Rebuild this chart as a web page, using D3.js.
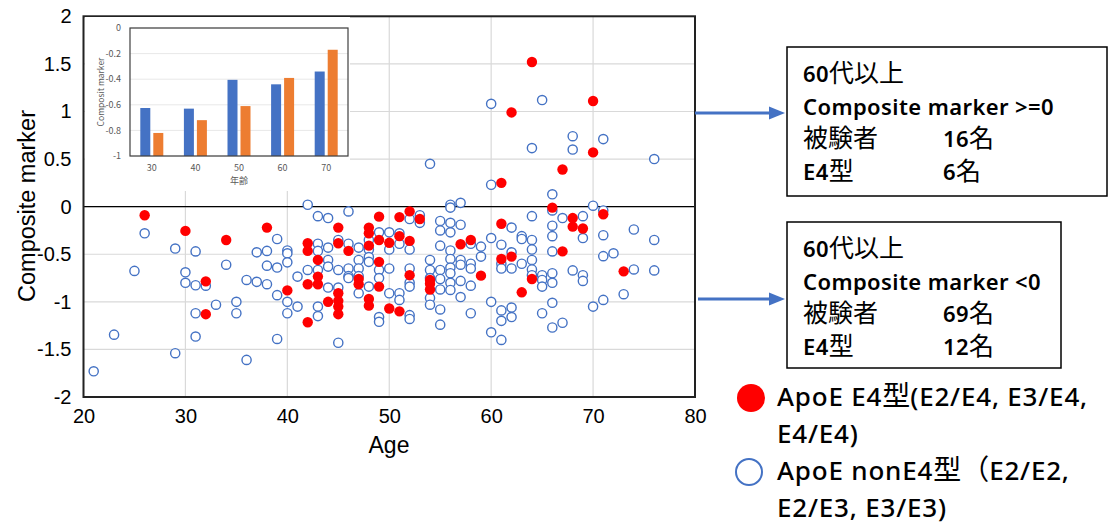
<!DOCTYPE html>
<html>
<head>
<meta charset="utf-8">
<script src="https://cdn.jsdelivr.net/npm/d3@7"></script>
<style>
  body { margin: 0; background: #fff; }
  svg { display: block; }
  .eje text { font-family: "Liberation Sans", Arial, sans-serif; font-size: 20px; fill: #000; }
  .mini text { font-family: "Noto Sans CJK JP", sans-serif; font-size: 9px; fill: #595959; }
</style>
</head>
<body>
<div id="grafico"></div>
<script>
// Datos: ApoE E4 (rojo) y nonE4 (azul) -> [edad, composite marker]
e4Puntos = [
  [26,-0.09],[30,-0.255],[32,-0.785],[32,-1.13],[34,-0.35],[38,-0.22],[40,-0.88],
  [42,-0.385],[42,-0.465],[42,-0.815],[42,-1.215],[43,-0.56],[43,-0.735],[43,-0.815],
  [44,-1.0],[45,-0.22],[45,-0.385],[45,-0.91],[45,-0.99],[45,-1.05],[45,-1.13],[46,-0.465],
  [47,-0.76],[47,-0.815],[48,-0.22],[48,-0.28],[48,-0.41],[48,-0.97],[48,-1.04],
  [49,-0.105],[49,-0.35],[49,-0.58],[49,-0.84],[50,-0.38],[50,-1.07],[51,-0.11],[51,-0.31],
  [51,-1.1],[52,-0.05],[52,-0.36],[52,-0.72],[53,-0.13],[54,-0.77],[54,-0.81],[54,-0.87],
  [57,-0.395],[58,-0.35],[59,-0.725],[61,0.25],[61,-0.18],[61,-0.55],[62,0.99],[62,-0.525],
  [63,-0.9],[64,1.52],[64,-0.76],[66,-0.01],[67,0.39],[67,-0.47],[68,-0.12],[68,-0.21],
  [69,-0.23],[70,1.11],[70,0.57],[71,-0.08],[73,-0.68]
]
nonE4Puntos = [
  [21,-1.73],[23,-1.345],[25,-0.675],[26,-0.28],[29,-0.44],[29,-1.54],[30,-0.69],[30,-0.8],
  [31,-0.47],[31,-0.826],[31,-1.12],[31,-1.365],[32,-0.83],[33,-1.03],[34,-0.61],[35,-1.0],
  [35,-1.12],[36,-0.77],[36,-1.61],[37,-0.48],[37,-0.79],[38,-0.465],[38,-0.62],[38,-0.815],
  [39,-0.34],[39,-0.64],[39,-0.93],[39,-1.39],[40,-0.46],[40,-0.49],[40,-0.585],[40,-1.0],
  [40,-1.12],[41,-0.735],[41,-1.05],
  [42,0.02],[42,-0.665],[43,-0.1],[43,-0.39],[43,-0.465],[43,-0.665],[43,-1.05],[43,-1.15],
  [44,-0.12],[44,-0.43],[44,-0.56],[44,-0.63],[44,-0.85],[45,-0.35],[45,-0.665],[45,-0.85],
  [45,-1.43],[46,-0.05],[46,-0.39],[46,-0.65],[46,-0.73],[46,-0.75],[47,-0.43],[47,-0.56],
  [47,-0.65],[47,-0.73],[47,-0.91],[48,-0.35],[48,-0.45],[48,-0.53],[48,-0.58],[48,-0.84],
  [49,-0.27],[49,-0.665],[49,-0.75],[49,-1.16],[49,-1.21],[50,-0.27],[50,-0.45],[50,-0.65],
  [50,-0.91],[51,-0.28],[51,-0.39],[51,-0.91],[51,-0.98],[52,-0.13],[52,-0.45],[52,-0.65],
  [52,-0.8],[52,-0.84],[52,-1.14],[52,-1.18],[53,-0.09],[53,-0.17],[54,0.45],[54,-0.56],
  [54,-0.665],[54,-0.75],[54,-0.96],[54,-1.03],[55,-0.15],[55,-0.25],[55,-0.41],[55,-0.665],
  [55,-0.76],[55,-0.87],[55,-1.08],[55,-1.24],[56,0.02],[56,-0.01],[56,-0.17],[56,-0.27],
  [56,-0.46],[56,-0.55],[56,-0.64],[56,-0.7],[56,-0.8],[56,-0.875],[57,0.04],[57,-0.19],
  [57,-0.56],[57,-0.61],[57,-0.78],[57,-0.95],[58,-0.39],[58,-0.6],[58,-0.65],[58,-0.83],
  [58,-1.12],[59,-0.42],[59,-0.525],
  [60,1.08],[60,0.23],[60,-0.33],[60,-1.0],[60,-1.32],[61,-0.4],[61,-0.6],[61,-0.65],
  [61,-1.09],[61,-1.2],[61,-1.4],[62,-0.22],[62,-0.48],[62,-0.65],[62,-1.06],[62,-1.16],
  [63,-0.31],[63,-0.34],[63,-0.6],[64,0.615],[64,-0.1],[64,-0.35],[64,-0.45],[64,-0.56],
  [64,-0.66],[64,-0.72],[65,1.12],[65,-0.72],[65,-0.77],[65,-0.84],[65,-1.12],[66,0.13],
  [66,-0.04],[66,-0.2],[66,-0.31],[66,-0.47],[66,-0.7],[66,-0.8],[66,-1.01],[66,-1.27],
  [67,-0.12],[67,-1.22],[68,0.74],[68,0.6],[68,-0.67],[69,-0.1],[69,-0.33],[69,-0.72],
  [69,-0.78],[70,0.01],[70,-1.05],[71,0.71],[71,-0.04],[71,-0.3],[71,-0.52],[71,-0.98],
  [72,-0.49],[73,-0.92],[74,-0.24],[74,-0.66],[76,0.5],[76,-0.35],[76,-0.67]
]
ticksX = [20, 30, 40, 50, 60, 70, 80]
ticksY = [-2, -1.5, -1, -0.5, 0, 0.5, 1, 1.5, 2]

// Grafica insertada (promedio por decada)
decadas = ['30', '40', '50', '60', '70']
promNonE4 = [-0.625, -0.63, -0.405, -0.44, -0.34]
promE4 = [-0.82, -0.72, -0.61, -0.39, -0.17]
ticksMini = [-1, -0.8, -0.6, -0.4, -0.2, 0]

// Textos de las cajas y leyenda
caja1 = ['60代以上', 'Composite marker >=0', ['被験者', '16名'], ['E4型', '6名']]
caja2 = ['60代以上', 'Composite marker <0', ['被験者', '69名'], ['E4型', '12名']]
leyenda = [['ApoE E4型(E2/E4, E3/E4,', 'E4/E4)'], ['ApoE nonE4型（E2/E2,', 'E2/E3, E3/E3)']]

ancho = 1109
alto = 524
azul = '#4472C4'
naranja = '#ED7D31'
formato = d => String(d)

svg = d3.select('#grafico').append('svg')
  .attr('width', ancho).attr('height', alto)

margen = { superior: 16.3, izquierdo: 83.5, derecho: 414, inferior: 127 }
anchoG = ancho - margen.izquierdo - margen.derecho
altoG = alto - margen.superior - margen.inferior

x = d3.scaleLinear().domain([20, 80]).range([0, anchoG])
y = d3.scaleLinear().domain([-2, 2]).range([altoG, 0])

g = svg.append('g').attr('transform', `translate(${margen.izquierdo}, ${margen.superior})`)

// Rejilla
g.selectAll('.gy').data(ticksY).join('line')
  .attr('x1', 0).attr('x2', anchoG)
  .attr('y1', d => y(d)).attr('y2', d => y(d))
  .attr('stroke', '#d9d9d9').attr('stroke-width', 1.2)
g.selectAll('.gx').data(ticksX).join('line')
  .attr('y1', 0).attr('y2', altoG)
  .attr('x1', d => x(d)).attr('x2', d => x(d))
  .attr('stroke', '#d9d9d9').attr('stroke-width', 1.2)

// Ejes
yEje = g.append('g').attr('class', 'eje')
  .call(d3.axisLeft(y).tickValues(ticksY).tickSize(0).tickPadding(12).tickFormat(formato))
yEje.select('.domain').remove()
xEje = g.append('g').attr('class', 'eje').attr('transform', `translate(0, ${altoG})`)
  .call(d3.axisBottom(x).tickValues(ticksX).tickSize(0).tickPadding(12).tickFormat(formato))
xEje.select('.domain').remove()

// Linea cero
g.append('line').attr('x1', 0).attr('x2', anchoG)
  .attr('y1', y(0)).attr('y2', y(0))
  .attr('stroke', '#000').attr('stroke-width', 1.3)

// Puntos
g.selectAll('.azul').data(nonE4Puntos).join('circle')
  .attr('cx', d => x(d[0])).attr('cy', d => y(d[1])).attr('r', 4.6)
  .attr('fill', '#fff').attr('stroke', azul).attr('stroke-width', 1.4)
g.selectAll('.rojo').data(e4Puntos).join('circle')
  .attr('cx', d => x(d[0])).attr('cy', d => y(d[1])).attr('r', 5.2)
  .attr('fill', '#ff0000')

// Marco
g.append('rect').attr('x', 0).attr('y', 0).attr('width', anchoG).attr('height', altoG)
  .attr('fill', 'none').attr('stroke', '#222').attr('stroke-width', 2)

// Titulos
svg.append('text').attr('x', 389).attr('y', 453).attr('text-anchor', 'middle')
  .style('font-family', '"Liberation Sans", Arial, sans-serif').style('font-size', '23px')
  .text('Age')
svg.append('text').attr('transform', 'translate(35, 206) rotate(-90)').attr('text-anchor', 'middle')
  .style('font-family', '"Liberation Sans", Arial, sans-serif').style('font-size', '23.5px')
  .text('Composite marker')

/******** GRAFICA INSERTADA *************/
mini = svg.append('g').attr('class', 'mini')
mini.append('rect').attr('x', 85).attr('y', 17).attr('width', 265).attr('height', 174).attr('fill', '#fff')
mIzq = 130, mSup = 28, mAncho = 218, mAlto = 128
xm = d3.scaleBand().domain(decadas).range([mIzq, mIzq + mAncho])
ym = d3.scaleLinear().domain([-1, 0]).range([mSup + mAlto, mSup])

mini.selectAll('.mg').data(ticksMini).join('line')
  .attr('x1', mIzq).attr('x2', mIzq + mAncho)
  .attr('y1', d => ym(d)).attr('y2', d => ym(d))
  .attr('stroke', '#e8e8e8')
mini.selectAll('.barAzul').data(decadas).join('rect')
  .attr('x', d => xm(d) + xm.bandwidth() / 2 - 11.5)
  .attr('width', 10)
  .attr('y', (d, i) => ym(promNonE4[i]))
  .attr('height', (d, i) => ym(-1) - ym(promNonE4[i]))
  .attr('fill', azul)
mini.selectAll('.barNar').data(decadas).join('rect')
  .attr('x', d => xm(d) + xm.bandwidth() / 2 + 1.5)
  .attr('width', 10)
  .attr('y', (d, i) => ym(promE4[i]))
  .attr('height', (d, i) => ym(-1) - ym(promE4[i]))
  .attr('fill', naranja)
mini.append('rect').attr('x', mIzq).attr('y', mSup).attr('width', mAncho).attr('height', mAlto)
  .attr('fill', 'none').attr('stroke', '#404040').attr('stroke-width', 1.2)
mini.selectAll('.my').data(ticksMini).join('text')
  .attr('x', mIzq - 9).attr('y', d => ym(d)).attr('dy', '0.35em').attr('text-anchor', 'end')
  .text(formato)
mini.selectAll('.mx').data(decadas).join('text')
  .attr('x', d => xm(d) + xm.bandwidth() / 2).attr('y', mSup + mAlto + 15).attr('text-anchor', 'middle')
  .text(d => d)
mini.append('text').attr('x', 239).attr('y', 184).attr('text-anchor', 'middle').text('年齢')
mini.append('text').attr('transform', 'translate(104, 92) rotate(-90)').attr('text-anchor', 'middle')
  .style('font-size', '8.5px').text('Composit marker')

/******** TEXTO MIXTO (latin / japones) *************/
function escribir(x0, y0, str, tamLat, tamCJK, peso, espacio) {
  t = svg.append('text').attr('x', x0).attr('y', y0).attr('fill', '#000')
  str.split(/([\u3000-\u9fff\uff00-\uffef]+)/).filter(s => s.length).forEach(s => {
    cjk = /[\u3000-\u9fff\uff00-\uffef]/.test(s)
    t.append('tspan').text(s)
      .style('font-family', cjk ? '"Noto Sans CJK JP"' : '"Noto Sans", sans-serif')
      .style('font-size', (cjk ? tamCJK : tamLat) + 'px')
      .style('font-weight', cjk ? 'normal' : peso)
      .style('letter-spacing', cjk ? '0px' : espacio + 'px')
  })
}

/******** FLECHAS Y CAJAS *************/
function flecha(x1, x2, yy) {
  svg.append('line').attr('x1', x1).attr('x2', x2 - 14).attr('y1', yy).attr('y2', yy)
    .attr('stroke', azul).attr('stroke-width', 3)
  svg.append('path').attr('d', `M${x2},${yy} L${x2 - 16},${yy - 6.5} L${x2 - 16},${yy + 6.5} Z`)
    .attr('fill', azul)
}
flecha(695, 785, 113)
flecha(698, 785, 299)

function caja(x0, y0, w, h, lineas) {
  svg.append('rect').attr('x', x0).attr('y', y0).attr('width', w).attr('height', h)
    .attr('fill', '#fff').attr('stroke', '#000').attr('stroke-width', 1.5)
  lineas.forEach((l, i) => {
    yy = y0 + 35 + i * 32.7
    if (Array.isArray(l)) {
      escribir(x0 + 16, yy, l[0], 22, 25, 600, 0.4)
      escribir(x0 + 156, yy, l[1], 22, 25, 600, 0.4)
    } else {
      escribir(x0 + 16, yy, l, 22, 25, 600, 0.4)
    }
  })
}
caja(787, 47, 320, 149, caja1)
caja(787, 222, 274, 146, caja2)

/******** LEYENDA *************/
svg.append('circle').attr('cx', 751).attr('cy', 398).attr('r', 14).attr('fill', '#ff0000')
svg.append('circle').attr('cx', 749).attr('cy', 472).attr('r', 13)
  .attr('fill', '#fff').attr('stroke', azul).attr('stroke-width', 2)
leyenda.forEach((l, i) => {
  l.forEach((t, j) => {
    escribir(777, 406 + i * 74 + j * 37, t, 26, 28, 500, 0.8)
  })
})
</script>
</body>
</html>
